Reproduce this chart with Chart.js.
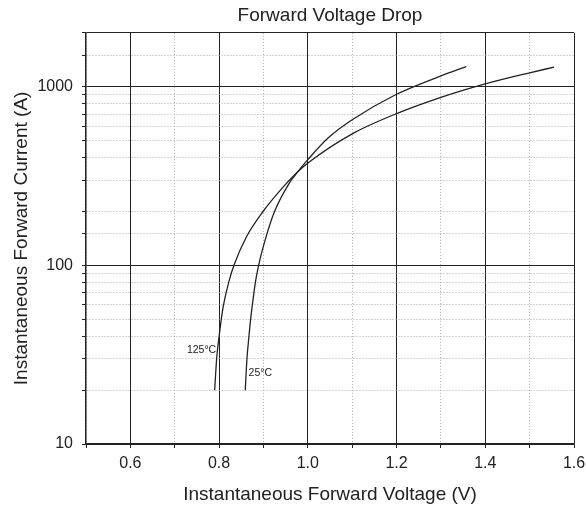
<!DOCTYPE html>
<html>
<head>
<meta charset="utf-8">
<script src="https://cdn.jsdelivr.net/npm/chart.js@4/dist/chart.umd.min.js"></script>
<style>
  html, body { margin: 0; padding: 0; background: #fff; }
  #wrap { width: 586px; height: 511px; }
</style>
</head>
<body>
<div id="wrap"><canvas id="vfChart"></canvas></div>
<script>
// values
const seriesNames = ["125°C", "25°C"];
const hotVolts = [0.790, 0.7945, 0.800, 0.805, 0.810, 0.8215, 0.8335, 0.862, 0.899, 0.9477, 0.978, 1.004, 1.100, 1.200, 1.300, 1.400, 1.500, 1.555];
const hotAmps  = [20, 30, 40, 50, 60, 80, 100, 145, 200, 280, 335, 380, 544, 706, 871, 1036, 1195, 1285];
const coldVolts = [0.859, 0.8628, 0.8673, 0.8711, 0.875, 0.8817, 0.8891, 0.9072, 0.925, 0.959, 0.978, 1.000, 1.045, 1.100, 1.200, 1.300, 1.357];
const coldAmps  = [20, 30, 40, 50, 60, 80, 100, 148, 200, 290, 335, 390, 514, 652, 906, 1148, 1294];

// curve tags, anchored in data units
const tagText = ["125°C", "25°C"];
const tagVolts = [0.7935, 0.8665];
const tagAmps = [33.6, 24.9];
const tagAlign = ["right", "left"];

const xMin = 0.5, xMax = 1.6;
const yMin = 10, yMax = 2000;
const yLabels = [10, 100, 1000];

const toPoints = function(xs, ys) {
  return xs.map(function(x, i) { return { x: x, y: ys[i] }; });
};

const isMajorX = function(v) {
  return Math.round(v * 10) % 2 === 0;
};
const isMajorY = function(v) {
  return v === 10 || v === 100 || v === 1000 || v >= yMax;
};

const tagPlugin = {
  id: "curveTags",
  afterDatasetsDraw: function(chart) {
    const ctx = chart.ctx;
    const xs = chart.scales.x, ys = chart.scales.y;
    ctx.save();
    ctx.fillStyle = "#222";
    ctx.font = "10.5px 'Liberation Sans', Arial, sans-serif";
    ctx.textBaseline = "middle";
    tagText.forEach(function(t, i) {
      ctx.textAlign = tagAlign[i];
      ctx.fillText(t, xs.getPixelForValue(tagVolts[i]), ys.getPixelForValue(tagAmps[i]));
    });
    ctx.restore();
  }
};

const font = "'Liberation Sans', Arial, sans-serif";
const context = document.getElementById("vfChart").getContext("2d");
const chart = new Chart(context, {
  type: "line",
  data: {
    datasets: [{
      label: seriesNames[0],
      data: toPoints(hotVolts, hotAmps),
      borderColor: "#222",
      borderWidth: 1.3,
      pointRadius: 0,
      cubicInterpolationMode: "monotone"
    }, {
      label: seriesNames[1],
      data: toPoints(coldVolts, coldAmps),
      borderColor: "#222",
      borderWidth: 1.3,
      pointRadius: 0,
      cubicInterpolationMode: "monotone"
    }]
  },
  options: {
    responsive: true,
    maintainAspectRatio: false,
    animation: false,
    layout: { padding: { left: 0, right: 0, top: 0, bottom: 0 } },
    plugins: {
      legend: { display: false },
      tooltip: { enabled: false },
      title: {
        display: true,
        text: "Forward Voltage Drop",
        fullSize: false,
        color: "#222",
        font: { family: font, size: 19, weight: "normal" },
        padding: { top: 4, bottom: 6 }
      }
    },
    scales: {
      x: {
        type: "linear",
        min: xMin,
        max: xMax,
        afterFit: function(scale) {
          scale.height = 67;
          scale.paddingLeft = 0;
          scale.paddingRight = 12;
        },
        ticks: {
          stepSize: 0.1,
          autoSkip: false,
          maxRotation: 0,
          padding: 6,
          color: "#222",
          font: { family: font, size: 16 },
          callback: function(v) { return isMajorX(v) ? v.toFixed(1) : ""; }
        },
        grid: {
          color: function(c) { return isMajorX(c.tick.value) ? "#222" : "#aaa"; },
          lineWidth: 1,
          tickLength: 4,
          tickColor: "#222"
        },
        border: {
          color: "#222",
          width: 1.5,
          dash: function(c) { return c.tick && !isMajorX(c.tick.value) ? [1, 2] : []; }
        },
        title: {
          display: true,
          text: "Instantaneous Forward Voltage (V)",
          color: "#222",
          font: { family: font, size: 19 },
          padding: { top: 0, bottom: 5 }
        }
      },
      y: {
        type: "logarithmic",
        min: yMin,
        max: yMax,
        afterFit: function(scale) { scale.width = 86; },
        ticks: {
          autoSkip: false,
          padding: 9,
          color: "#222",
          font: { family: font, size: 16 },
          callback: function(v) { return yLabels.indexOf(v) >= 0 ? String(v) : ""; }
        },
        grid: {
          color: function(c) { return isMajorY(c.tick.value) ? "#222" : "#aaa"; },
          lineWidth: 1,
          tickLength: 4,
          tickColor: "#222"
        },
        border: {
          color: "#222",
          width: 1.5,
          dash: function(c) { return c.tick && !isMajorY(c.tick.value) ? [1, 2] : []; }
        },
        title: {
          display: true,
          text: "Instantaneous Forward Current (A)",
          color: "#222",
          font: { family: font, size: 19 },
          padding: { top: 10, bottom: 0 }
        }
      }
    }
  },
  plugins: [tagPlugin]
});
</script>
</body>
</html>
